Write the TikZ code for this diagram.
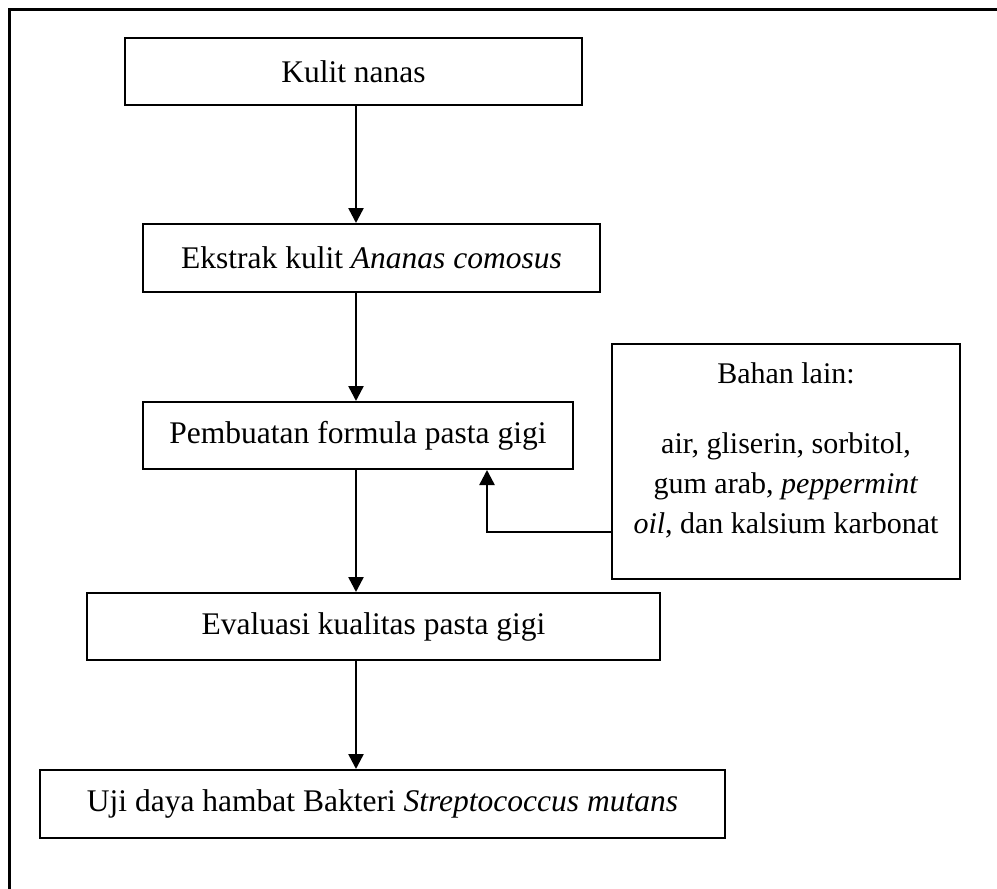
\documentclass[tikz,border=0pt]{standalone}
\usepackage{fontspec}
\setmainfont{Liberation Serif}
\usepackage{tikz}
\usetikzlibrary{arrows.meta}

\begin{document}
\begin{tikzpicture}[x=1pt, y=-1pt,
	box/.style={draw, line width=2pt, inner sep=0pt, align=center,
		font=\fontsize{31.5}{40}\selectfont},
	flow/.style={line width=2.5pt, -{Triangle[width=15pt, length=15pt]}}]
\useasboundingbox (0,0) rectangle (997,889);
\draw[line width=3pt] (9,889) -- (9,9) -- (997,9);

\node[box, minimum width=457pt, minimum height=67pt] (kulit) at (353.5,71.5) {Kulit nanas};
\node[box, minimum width=457pt, minimum height=68pt] (ekstrak) at (371.5,258) {Ekstrak kulit \textit{Ananas comosus}};
\node[box, minimum width=430pt, minimum height=67pt] (formula) at (358,435.5) {Pembuatan formula pasta gigi};
\node[box, minimum width=573pt, minimum height=67pt] (evaluasi) at (373.5,626.5) {Evaluasi kualitas pasta gigi};
\node[box, minimum width=685pt, minimum height=68pt] (uji) at (382.5,804) {Uji daya hambat Bakteri \textit{Streptococcus mutans}};
\node[box, font=\fontsize{30}{40}\selectfont, minimum width=348pt, minimum height=235pt] (bahan) at (786,461.5)
	{Bahan lain:\\[30pt] air, gliserin, sorbitol,\\ gum arab, \textit{peppermint}\\ \textit{oil}, dan kalsium karbonat\\[-14pt]\mbox{}};

\coordinate (spine) at (356,0);
\coordinate (elbow) at (487,532);

\draw[flow] (kulit.south -| spine) -- (ekstrak.north -| spine);
\draw[flow] (ekstrak.south -| spine) -- (formula.north -| spine);
\draw[flow] (formula.south -| spine) -- (evaluasi.north -| spine);
\draw[flow] (evaluasi.south -| spine) -- (uji.north -| spine);
\draw[flow] (bahan.west |- elbow) -- (elbow) -- (formula.south -| elbow);
\end{tikzpicture}
\end{document}
